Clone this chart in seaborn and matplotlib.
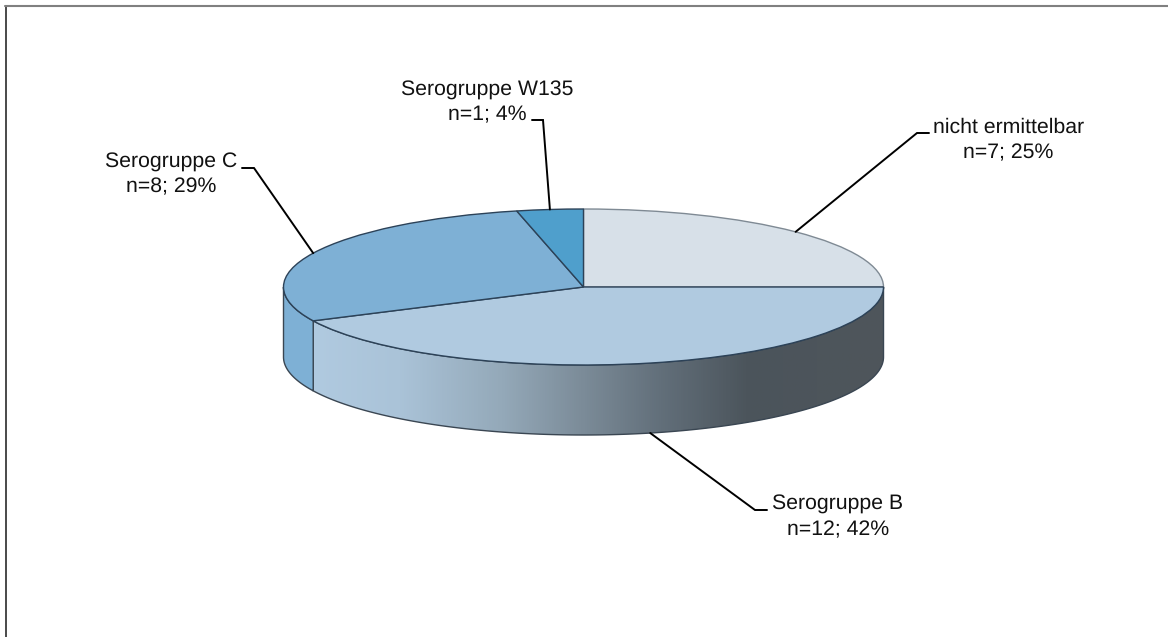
import numpy as np
import matplotlib
matplotlib.use("Agg")
import matplotlib.pyplot as plt
from matplotlib.colors import LinearSegmentedColormap
from matplotlib.patches import Polygon
import seaborn as sns

categories = ["nicht ermittelbar", "Serogruppe B", "Serogruppe C", "Serogruppe W135"]
counts = [7, 12, 8, 1]
percent_labels = ["25%", "42%", "29%", "4%"]
top_colors = ["#D7E0E8", "#B0CAE0", "#7EB0D5", "#4F9FCC"]
edge_colors = ["#7F8A94", "#2C4258", "#2C4258", "#2C4258"]

sns.set_theme(style="white")
plt.rcParams["font.family"] = ["Liberation Sans", "DejaVu Sans"]
plt.rcParams["text.hinting"] = "none"

W, H = 1168, 637
CX, CY, RX, RY, DEPTH = 583.5, 287.0, 300.0, 78.0, 70.0
D = DEPTH / RY

fig = plt.figure(figsize=(W / 100, H / 100), dpi=100, facecolor="white")
ax = fig.add_axes([0, 0, 1, 1])


def px(x, y):
    return (x - CX) / RX, (CY - y) / RY


palette = sns.color_palette(top_colors)
wedges, _ = ax.pie(counts, colors=palette, startangle=90, counterclock=False,
                   radius=1.0, center=(0, 0), frame=True,
                   wedgeprops={"linewidth": 1.0, "zorder": 5})
for w, ec in zip(wedges, edge_colors):
    w.set_edgecolor(ec)
ax.set_aspect("auto")

# side wall of the disc: only the front half (180..360 degrees) is visible
wall_cmap = LinearSegmentedColormap.from_list("wall", [
    (0.00, "#B0CAE0"), (0.15, "#AAC3D8"), (0.33, "#94A9B9"), (0.47, "#7C8C99"),
    (0.61, "#626F7A"), (0.765, "#4B545B"), (1.00, "#4F565B")])


def wall_outline(a, b):
    t = np.radians(np.linspace(a, b, 200))
    x, y = np.cos(t), np.sin(t)
    return np.r_[np.c_[x, y], np.c_[x, y - D][::-1]]


for w, color in zip(wedges, palette):
    a, b = max(w.theta1, 180.0), min(w.theta2 if w.theta2 > w.theta1 else w.theta2 + 360, 360.0)
    if w.theta2 <= 0:
        a, b = max(w.theta1 + 360, 180.0), min(w.theta2 + 360, 360.0)
    if b <= a:
        continue
    pts = wall_outline(a, b)
    if a > 190:
        poly = Polygon(pts, closed=True, facecolor="none", edgecolor="#3A4652",
                       linewidth=1.0, zorder=3)
        ax.add_patch(poly)
        xs = np.cos(np.radians(a))
        im = ax.imshow(np.linspace(0, 1, 512)[None, :], cmap=wall_cmap, aspect="auto",
                       extent=(xs, 1, -1 - D, 0.1), zorder=2, vmin=0, vmax=1)
        im.set_clip_path(poly)
    else:
        ax.add_patch(Polygon(pts, closed=True, facecolor=color, edgecolor="#3A4652",
                             linewidth=1.0, zorder=3))

ax.set_xlim((0 - CX) / RX, (W - CX) / RX)
ax.set_ylim((CY - H) / RY, CY / RY)
ax.axis("off")

# chart frame (only left and top edges fall inside the picture)
ax.plot(*zip(px(5.5, 637), px(5.5, 6)), color="#2A2A2A", lw=1.2, zorder=1, clip_on=False)
ax.plot(*zip(px(5, 6), px(1168, 6)), color="#808080", lw=1.5, zorder=1, clip_on=False)

# label centre x, first-line y, second-line y, elbow points (pixels)
label_pos = [(1008.5, 127, 153), (838, 504, 530), (171.5, 162, 187), (487.5, 90, 115)]
elbows = [[(917, 133), (929, 133)], [(755, 510), (767, 510)],
          [(254, 168), (242, 168)], [(543, 120), (532, 120)]]

for w, cat, n, pct, (lx, y1, y2), elbow in zip(wedges, categories, counts,
                                               percent_labels, label_pos, elbows):
    mid = np.radians((w.theta1 + w.theta2) / 2)
    ax_x, ax_y = np.cos(mid), np.sin(mid)
    if ax_y < 0:
        ax_y -= D
    pts = [(ax_x, ax_y)] + [px(*p) for p in elbow]
    ax.plot(*zip(*pts), color="black", lw=1.4, zorder=6, solid_joinstyle="miter")
    ax.text(*px(lx, y1), cat, ha="center", va="center", fontsize=15.3, color="#111111", zorder=7)
    ax.text(*px(lx, y2), f"n={n}; {pct}", ha="center", va="center", fontsize=15.3,
            color="#111111", zorder=7)

fig.savefig("out.png", dpi=100, facecolor="white")
